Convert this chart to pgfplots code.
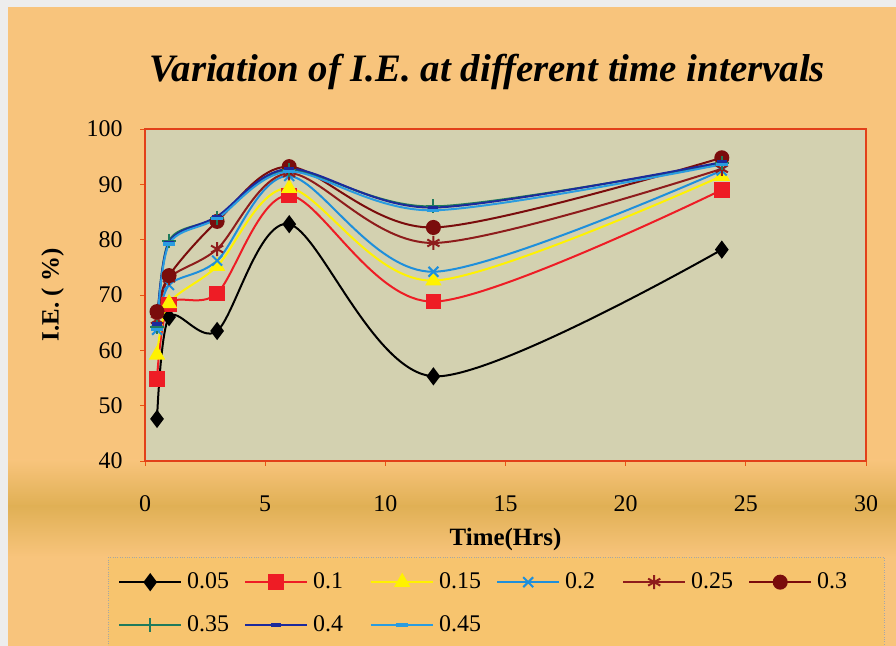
\documentclass[border=0pt]{standalone}
\usepackage{fontspec}
\setmainfont{Liberation Serif}
\usepackage{pgfplots}
\pgfplotsset{compat=1.18}
\definecolor{pagebg}{HTML}{F8C47C}
\definecolor{goldbg}{HTML}{E0B055}
\definecolor{plotbg}{HTML}{D3D1B0}
\definecolor{legbg}{HTML}{F7C46E}
\definecolor{frame}{HTML}{E2401A}
\definecolor{cB}{HTML}{000000}
\definecolor{cR}{HTML}{EE1C25}
\definecolor{cY}{HTML}{FFF200}
\definecolor{cL}{HTML}{1E8FDC}
\definecolor{cS}{HTML}{8E1C1C}
\definecolor{cM}{HTML}{7A0C0C}
\definecolor{cG}{HTML}{1F7A5C}
\definecolor{cN}{HTML}{1C2A9C}
\definecolor{cC}{HTML}{2A9CE0}
\begin{document}
\begin{tikzpicture}[x=1bp,y=1bp]
\useasboundingbox (0,0) rectangle (896,646);
\fill[black!7] (0,0) rectangle (896,646);
\fill[pagebg] (8,0) rectangle (896,639);
\shade[top color=pagebg, bottom color=goldbg] (8,140) rectangle (896,186);
\shade[top color=goldbg, bottom color=pagebg] (8,89) rectangle (896,140);
\begin{axis}[
  at={(145bp,185bp)}, anchor=south west,
  width=721bp, height=332bp, scale only axis,
  xmin=0, xmax=30, ymin=40, ymax=100,
  xtick={0,5,...,30}, ytick={40,50,...,100},
  xtick pos=bottom, ytick pos=left,
  tick align=outside, major tick length=5bp,
  tick style={draw=frame!70!orange, line width=0.8bp},
  axis line style={draw=frame, line width=1.4bp},
  axis background/.style={fill=plotbg},
  /pgf/number format/assume math mode=true,
  tick label style={font=\fontsize{24}{24}\selectfont},
  xticklabel style={yshift=-26bp},
  yticklabel style={xshift=-14bp},
  xlabel={\textbf{Time(Hrs)}},
  ylabel={\textbf{I.E. ( \%)}},
  label style={font=\fontsize{25}{25}\selectfont},
  xlabel style={at={(axis description cs:0.5,-0.235)}, anchor=center},
  ylabel style={at={(axis description cs:-0.128,0.5)}, anchor=center},
  title={\textbf{\textit{Variation of I.E. at different time intervals}}},
  title style={font=\fontsize{39}{39}\selectfont, at={(axis description cs:0.475,1.155)}, anchor=center},
  every axis plot/.append style={line width=2bp, smooth, tension=0.5},
  legend columns=6,
  legend style={at={(-0.0513,-0.289)}, anchor=north west,
    draw=black!35, dotted, fill=legbg, inner xsep=10bp, inner ysep=10bp,
    /tikz/every odd column/.append style={column sep=0bp},
    row sep=13bp,
    nodes={font=\fontsize{24}{24}\selectfont, text width=52bp, inner xsep=5bp, inner ysep=4bp, text height=17bp, text depth=5bp, anchor=west, solid}},
  legend cell align=left,
  legend image code/.code={\draw[mark repeat=2, mark phase=2, solid, #1] plot coordinates {(0bp,0bp) (31bp,0bp) (62bp,0bp)};},
]
\addplot[cB, mark=diamond*, mark size=7.5bp, mark options={solid}] coordinates {(0.5,47.6) (1,66) (3,63.5) (6,82.8) (12,55.3) (24,78.2)};
\addlegendentry{0.05}
\addplot[cR, mark=square*, mark size=6.8bp, mark options={solid}] coordinates {(0.5,54.8) (1,68.3) (3,70.3) (6,88) (12,68.8) (24,89)};
\addlegendentry{0.1}
\addplot[cY, mark=triangle*, mark size=7.5bp, mark options={solid}] coordinates {(0.5,59.2) (1,68.5) (3,75.2) (6,89.3) (12,72.6) (24,91.5)};
\addlegendentry{0.15}
\addplot[cL, mark=x, mark size=7bp, mark options={solid}] coordinates {(0.5,63.7) (1,71.8) (3,76.2) (6,91.5) (12,74.2) (24,92.5)};
\addlegendentry{0.2}
\addplot[cS, mark=asterisk, mark size=7bp, mark options={solid}] coordinates {(0.5,65.5) (1,73) (3,78.3) (6,92) (12,79.4) (24,92.8)};
\addlegendentry{0.25}
\addplot[cM, mark=*, mark size=6.5bp, mark options={solid}] coordinates {(0.5,67) (1,73.5) (3,83.3) (6,93.2) (12,82.2) (24,94.8)};
\addlegendentry{0.3}
\addplot[cG, mark=+, mark size=7bp, mark options={solid}] coordinates {(0.5,64.3) (1,79.8) (3,84) (6,92.5) (12,86) (24,93.8)};
\addlegendentry{0.35}
\addplot[cN, mark=-, mark size=5bp, mark options={solid, line width=3.5bp}] coordinates {(0.5,64.8) (1,79.5) (3,84.2) (6,92.8) (12,85.8) (24,94)};
\addlegendentry{0.4}
\addplot[cC, mark=-, mark size=6bp, mark options={solid, line width=3.5bp}] coordinates {(0.5,63.8) (1,79.2) (3,83.8) (6,92.3) (12,85.3) (24,93.6)};
\addlegendentry{0.45}
\end{axis}
\end{tikzpicture}
\end{document}
